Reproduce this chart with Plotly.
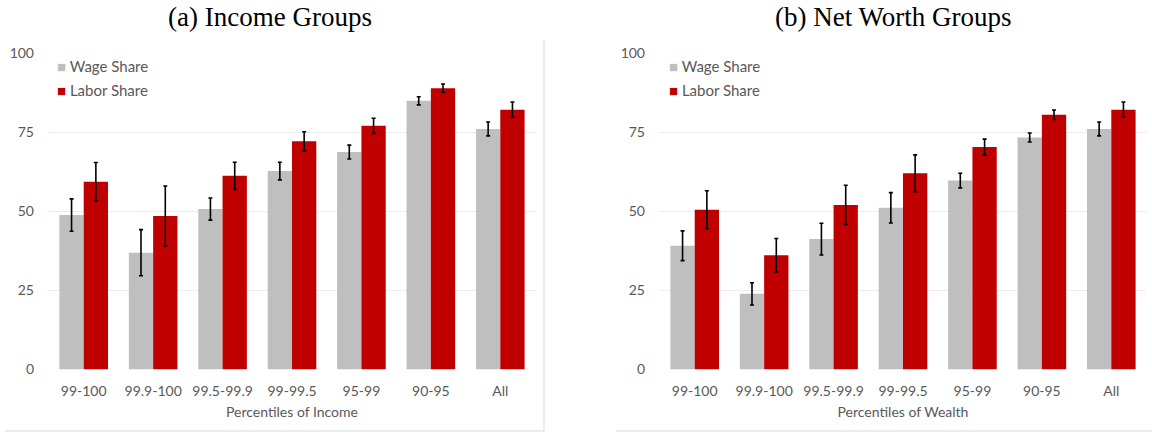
import plotly.graph_objects as go

W, H = 1152, 434

categories = ["99-100", "99.9-100", "99.5-99.9", "99-99.5", "95-99", "90-95", "All"]

# (a) income groups
inc_wage = [48.8, 36.9, 50.7, 62.7, 68.7, 84.9, 76.0]
inc_wage_err = [5.1, 7.3, 3.5, 2.8, 2.2, 1.3, 2.2]
inc_labor = [59.3, 48.5, 61.2, 72.1, 77.0, 88.9, 82.1]
inc_labor_err = [6.1, 9.5, 4.3, 3.0, 2.4, 1.3, 2.4]

# (b) net worth groups
nw_wage = [39.1, 23.9, 41.2, 51.1, 59.7, 73.3, 76.0]
nw_wage_err = [4.7, 3.5, 5.0, 4.8, 2.3, 1.4, 2.2]
nw_labor = [50.5, 36.1, 52.0, 62.0, 70.3, 80.5, 82.1]
nw_labor_err = [6.0, 5.3, 6.2, 5.8, 2.5, 1.5, 2.4]

series_names = ["Wage Share", "Labor Share"]

GRAY = "#BFBFBF"
RED = "#C00000"
TXT = "#595959"
FONT = "Lato"


def px(x):
    return x / W


def py(y):
    return 1 - y / H


def bars(vals, errs, name, color, xa, ya):
    return go.Bar(
        x=categories, y=vals, name=name, marker_color=color,
        marker_line=dict(width=0), showlegend=False,
        error_y=dict(type="data", array=errs, color="black", thickness=1.6, width=2),
        xaxis=xa, yaxis=ya,
    )


fig = go.Figure()
fig.add_trace(bars(inc_wage, inc_wage_err, series_names[0], GRAY, "x", "y"))
fig.add_trace(bars(inc_labor, inc_labor_err, series_names[1], RED, "x", "y"))
fig.add_trace(bars(nw_wage, nw_wage_err, series_names[0], GRAY, "x2", "y2"))
fig.add_trace(bars(nw_labor, nw_labor_err, series_names[1], RED, "x2", "y2"))

ydom = [py(369.5), py(53)]
yax = dict(range=[0, 100], tickvals=[0, 25, 50, 75, 100], showgrid=True,
           gridcolor="#EDEDED", gridwidth=1, zeroline=False, showline=False,
           ticks="", ticklabelstandoff=14, tickfont=dict(family=FONT, size=14, color=TXT),
           domain=ydom, fixedrange=True)
xax = dict(showgrid=False, showline=False, zeroline=False, ticks="",
           ticklabelstandoff=11, tickfont=dict(family=FONT, size=14, color=TXT))

# hand-made legends (square swatch + label), one per panel
legend_notes = []
for x0 in (55, 667):
    for i, (name, color) in enumerate(zip(series_names, [GRAY, RED])):
        legend_notes.append(dict(
            text=f"<span style='color:{color}'>■</span> {name}",
            x=px(x0), y=py(66 + 24 * i), xref="paper", yref="paper",
            xanchor="left", yanchor="middle", showarrow=False,
            font=dict(family=FONT, size=15, color=TXT)))

title_font = dict(family="Liberation Serif", size=27, color="black")

fig.update_layout(
    width=W, height=H, margin=dict(l=0, r=0, t=0, b=0, autoexpand=False),
    paper_bgcolor="white", plot_bgcolor="white",
    barmode="group", bargap=0.3, bargroupgap=0, showlegend=False,
    xaxis=dict(xax, domain=[px(49), px(535)], anchor="y",
               title=dict(text="Percentiles of Income", standoff=9,
                          font=dict(family=FONT, size=14, color=TXT))),
    yaxis=dict(yax, anchor="x"),
    xaxis2=dict(xax, domain=[px(660), px(1146)], anchor="y2",
                title=dict(text="Percentiles of Wealth", standoff=9,
                           font=dict(family=FONT, size=14, color=TXT))),
    yaxis2=dict(yax, anchor="x2"),
    annotations=[
        dict(text="(a) Income Groups", x=px(270), y=py(17), xref="paper", yref="paper",
             xanchor="center", yanchor="middle", showarrow=False, font=title_font),
        dict(text="(b) Net Worth Groups", x=px(893), y=py(17), xref="paper", yref="paper",
             xanchor="center", yanchor="middle", showarrow=False, font=title_font),
    ] + legend_notes,
    shapes=[
        dict(type="line", xref="paper", yref="paper", x0=px(544), x1=px(544),
             y0=py(40), y1=py(431), line=dict(color="#D9D9D9", width=1)),
        dict(type="line", xref="paper", yref="paper", x0=px(5), x1=px(544),
             y0=py(431), y1=py(431), line=dict(color="#D9D9D9", width=1)),
        dict(type="line", xref="paper", yref="paper", x0=px(616), x1=px(1152),
             y0=py(431), y1=py(431), line=dict(color="#D9D9D9", width=1)),
    ],
)

# drop the browser's default body margin so the figure sits at the page corner
fig.write_html("out.html", config={"displayModeBar": False},
               post_script="document.body.style.margin='0px';")
